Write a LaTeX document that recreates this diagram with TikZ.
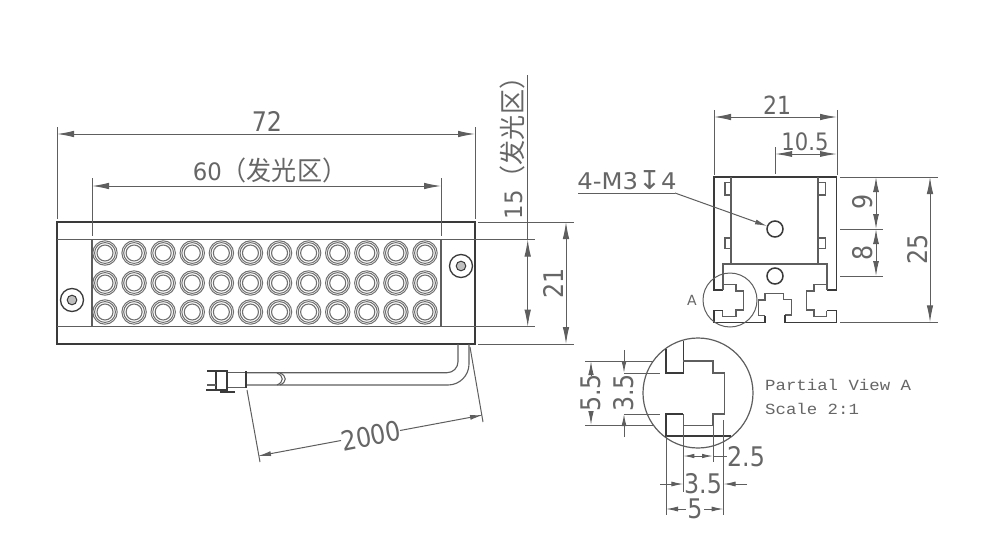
\documentclass[tikz,border=0pt]{standalone}
\usepackage{fontspec}
\usetikzlibrary{arrows.meta}
\setmainfont{DejaVu Sans}
\newfontfamily\cjkfont{Noto Sans CJK SC}[Scale=1.1]
\newfontfamily\symfont{DejaVu Sans}
\newfontfamily\monofont{Liberation Mono}
\definecolor{ink}{HTML}{3A3A3A}
\definecolor{dimc}{HTML}{5E5E5E}
\definecolor{ledc}{HTML}{707070}
\definecolor{txtc}{HTML}{666666}
\tikzset{
  outline/.style={draw=ink,line width=1.4pt},
  thinline/.style={draw=dimc,line width=1.1pt},
  extline/.style={draw=dimc,line width=1pt},
  dimline/.style={draw=dimc,line width=1pt},
  dimarrows/.style={dimline,{Latex[length=17pt,width=6.5pt]}-{Latex[length=17pt,width=6.5pt]}},
  smallarrows/.style={dimline,{Latex[length=15pt,width=6pt]}-{Latex[length=15pt,width=6pt]}},
  tiny/.style={dimline,-{Latex[length=12pt,width=5pt]}},
  dimtext/.style={text=txtc,font=\fontsize{27}{27}\selectfont,inner sep=0pt,xscale=0.88},
  dimtextb/.style={text=txtc,font=\fontsize{24}{24}\selectfont,inner sep=0pt,xscale=0.95},
  smalltext/.style={text=txtc,font=\fontsize{15.5}{18}\monofont\selectfont,inner sep=0pt,anchor=west,xscale=1.12},
}
\begin{document}
\begin{tikzpicture}[x=1pt,y=-1pt]
\useasboundingbox (0,0) rectangle (1004,557);
\fill[white] (0,0) rectangle (1004,557);

% --- front view ---
\draw[outline] (57,222) rectangle (475,344);
\draw[thinline] (57,239.5) -- (475,239.5);
\draw[thinline] (57,326.7) -- (475,326.7);
\draw[thinline] (92,239.5) -- (92,326.7);
\draw[thinline] (441,239.5) -- (441,326.7);
\foreach \col in {0,...,11}{
  \foreach \ry in {253,283,312}{
    \draw[ledc,line width=1pt] ({105+\col*29.09},\ry) circle (12.2pt);
    \draw[ledc,line width=1pt] ({105+\col*29.09},\ry) circle (10.4pt);
    \draw[ledc,line width=1.1pt] ({105+\col*29.09},\ry) circle (8pt);
  }
}
\foreach \sx/\sy in {72/300,461/266}{
  \draw[ink,line width=1.3pt] (\sx,\sy) circle (11.5pt);
  \draw[ink,fill=black!25,line width=1pt] (\sx,\sy) circle (4.8pt);
}

% 72
\draw[extline] (57,127) -- (57,219);
\draw[extline] (475,127) -- (475,219);
\draw[dimarrows] (57,134) -- (475,134);
\node[dimtext] (t72) at (267,121.5) {72};
% 60
\draw[extline] (92,178) -- (92,236);
\draw[extline] (441,178) -- (441,236);
\draw[dimarrows] (92,186) -- (441,186);
\node[dimtextb] (t60) at (270,170) {60{\cjkfont （发光区）}};
% 15
\draw[extline] (441,239.5) -- (535,239.5);
\draw[extline] (441,326.7) -- (535,326.7);
\draw[dimline] (527.7,75) -- (527.7,239.5);
\draw[dimarrows] (527.7,239.5) -- (527.7,326.7);
\node[rotate=90,dimtextb] (t15) at (512,142) {15{\cjkfont （发光区）}};
% 21
\draw[extline] (478,222) -- (574,222);
\draw[extline] (478,344) -- (574,344);
\draw[dimarrows] (566,222) -- (566,344);
\node[rotate=90,dimtext] (t21a) at (553,283) {21};

% --- cable ---
\draw[thinline] (247,372.7) -- (447,372.7) arc[start angle=-90,end angle=0,radius=11pt] -- (458,344);
\draw[thinline] (247,385) -- (448,385) arc[start angle=-90,end angle=0,radius=21pt] -- (469,344);
\draw[thinline] (277,373) .. controls (284,376) and (284,382) .. (277,385);
\draw[thinline] (280,373) .. controls (287,376) and (287,382) .. (280,385);
\draw[thinline] (227,372.7) rectangle (246,387.7);
\draw[outline] (246,371) -- (246,388);
\draw[outline] (207,371) -- (228,371);
\draw[outline] (206,390) -- (228,390);
\draw[outline] (216,372) -- (216,390);
\draw[outline] (227,372) -- (227,390);
\draw[thinline] (207,385) -- (216,385);
\draw[ink,line width=2pt] (220,392) -- (235,392);

% 2000
\draw[extline] (247,390) -- (260,462);
\draw[extline] (470,347) -- (483,422);
\draw[dimline,{Latex[length=13pt,width=5pt]}-] (258,456) -- (341,440.5);
\draw[dimline,-{Latex[length=13pt,width=5pt]}] (400,430.5) -- (483,415);
\node[rotate=11,dimtext] (t2000) at (371,436) {2000};

% --- end view ---
\draw[outline] (722.7,290) -- (714,290) -- (714,177) -- (836.7,177) -- (836.7,290) -- (827.3,290);
\draw[thinline] (731,177) -- (731,264);
\draw[thinline] (818,177) -- (818,264);
\draw[thinline] (723,290) -- (723,264) -- (827,264) -- (827,290);
\draw[thinline] (722.7,290) -- (722.7,284.3) -- (736,284.3) -- (736,291) -- (743.3,291) -- (743.3,310) -- (736,310) -- (736,316.7) -- (722.7,316.7) -- (722.7,310.7);
\draw[outline] (722.7,310.7) -- (714,310.7) -- (714,322.3) -- (765,322.3) -- (765,315.7);
\draw[thinline] (765,315.7) -- (758.3,315.7) -- (758.3,300) -- (765,300) -- (765,293.3) -- (783.3,293.3) -- (783.3,299.3) -- (791.7,299.3) -- (791.7,315) -- (785,315);
\draw[outline] (785,315) -- (785,322.3) -- (836.7,322.3) -- (836.7,310.7) -- (826.7,310.7);
\draw[thinline] (826.7,310.7) -- (826.7,316.7) -- (814,316.7) -- (814,310) -- (806.7,310) -- (806.7,291) -- (814,291) -- (814,284.3) -- (827.3,284.3) -- (827.3,290);
\draw[thinline] (731,182.3) -- (725,182.3) -- (725,195) -- (731,195);
\draw[thinline] (731,238) -- (725,238) -- (725,248.3) -- (731,248.3);
\draw[thinline] (818,182.3) -- (825.7,182.3) -- (825.7,195) -- (818,195);
\draw[thinline] (818,238) -- (825.7,238) -- (825.7,248.3) -- (818,248.3);
\draw[ink,line width=1.5pt] (775,229) circle (8pt);
\draw[ink,line width=1.5pt] (775,276) circle (8pt);
\draw[dimc,line width=1pt] (730,300) circle (27pt);
\node[text=txtc,font=\fontsize{14}{14}\selectfont,inner sep=0pt] (tA) at (692,300) {A};

% leader
\coordinate (holetip) at (767,226);
\draw[dimline] (578,193) -- (675,193);
\draw[dimline,-{Latex[length=12pt,width=5pt]}] (675,193) -- (holetip);
\node[dimtext,xscale=1.2,font=\fontsize{23}{24}\selectfont] (tM) at (627,180.5) {4-M3{\symfont\fontsize{26}{24}\selectfont ↧}4};

% 21 top
\draw[extline] (714,110) -- (714,175);
\draw[extline] (837,110) -- (837,175);
\draw[dimarrows] (714,117) -- (837,117);
\node[dimtext,font=\fontsize{25}{25}\selectfont] (t21b) at (777,105.5) {21};
% 10.5
\draw[extline] (775,147) -- (775,174);
\draw[extline] (837,147) -- (837,174);
\draw[dimline,{Latex[length=17pt,width=6pt]}-{Latex[length=17pt,width=6pt]}] (775,154) -- (837,154);
\node[dimtext,font=\fontsize{24}{24}\selectfont] (t105) at (805,141.5) {10.5};
% 25
\draw[extline] (840,177) -- (938,177);
\draw[extline] (840,322.3) -- (938,322.3);
\draw[dimarrows] (930,177) -- (930,322.3);
\node[rotate=90,dimtext] (t25) at (918,249) {25};
% 9, 8
\draw[extline] (840,229) -- (883,229);
\draw[extline] (840,276) -- (883,276);
\draw[smallarrows] (876,177) -- (876,229);
\draw[smallarrows] (876,229) -- (876,276);
\node[rotate=90,dimtext] (t9) at (863,202) {9};
\node[rotate=90,dimtext] (t8) at (863,253) {8};

% --- detail view ---
\draw[dimc,line width=1.2pt] (698,393) circle (55pt);
\draw[outline] (666,349) -- (666,373) -- (683.3,373) -- (683.3,341);
\draw[thinline] (683.3,361) -- (713,361) -- (713,373) -- (724.7,373) -- (724.7,414) -- (713,414) -- (713,425.7) -- (683.3,425.7) -- (683.3,414);
\draw[outline] (683.3,414) -- (666,414) -- (666,436) -- (731,436);

% horizontal ext
\draw[extline] (585,361) -- (653,361);
\draw[extline] (585,425) -- (653,425);
\draw[extline] (624,373) -- (660,373);
\draw[extline] (624,414) -- (660,414);
% 5.5
\draw[dimline,-{Latex[length=14pt,width=5.5pt]}] (591,376) -- (591,361);
\draw[dimline,-{Latex[length=14pt,width=5.5pt]}] (591,411) -- (591,425);
\node[rotate=90,dimtext] (t55) at (591,393) {5.5};
% 3.5 left
\draw[tiny] (624,350) -- (624,373);
\draw[tiny] (624,437) -- (624,414);
\node[rotate=90,dimtext] (t35a) at (624,393) {3.5};

% vertical ext
\draw[extline] (666,436) -- (666,515);
\draw[extline] (683.3,426) -- (683.3,492);
\draw[extline] (713,426) -- (713,462);
\draw[extline] (723.5,420) -- (723.5,515);
% 2.5
\draw[dimline,{Latex[length=11pt,width=4.5pt]}-{Latex[length=11pt,width=4.5pt]}] (683.3,456) -- (713,456);
\draw[dimline] (713,456) -- (727,456);
\node[dimtext] (t25b) at (746,457) {2.5};
% 3.5 bottom
\draw[tiny] (660,484) -- (683.3,484);
\draw[tiny] (747,484) -- (723.5,484);
\node[dimtext] (t35b) at (703,484) {3.5};
% 5
\draw[dimline,{Latex[length=12pt,width=5pt]}-] (666,509) -- (686,509);
\draw[dimline,-{Latex[length=12pt,width=5pt]}] (704,509) -- (723.5,509);
\node[dimtext] (t5) at (695,509) {5};

\node[smalltext] (tp) at (765,385) {Partial View A};
\node[smalltext] (ts) at (765,409) {Scale 2:1};
\end{tikzpicture}
\end{document}
